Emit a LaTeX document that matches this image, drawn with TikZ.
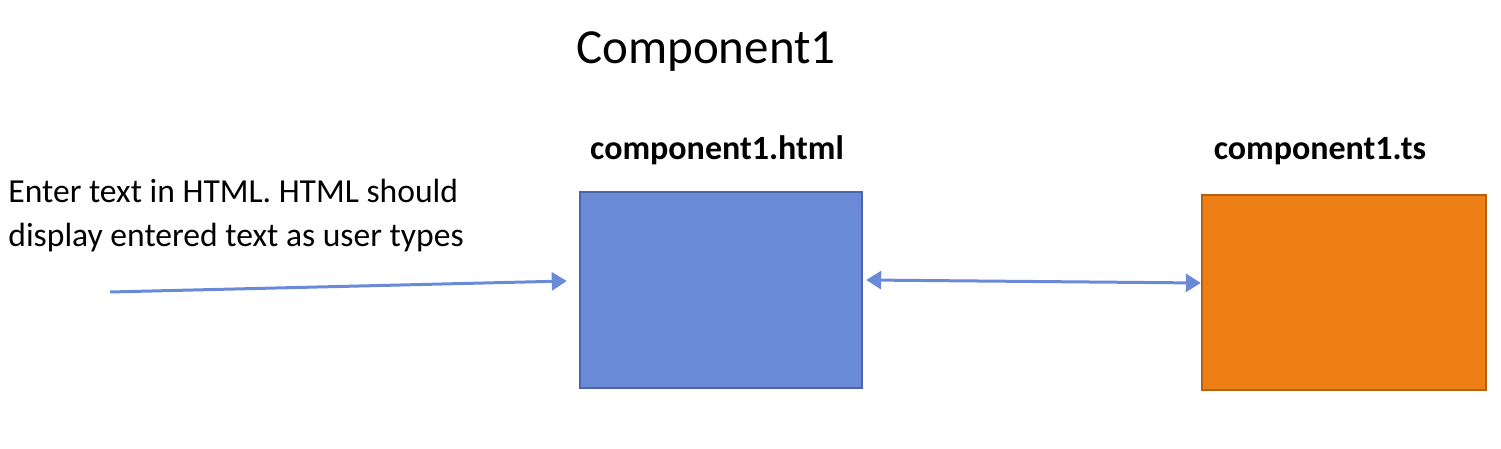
\documentclass[tikz,border=0pt]{standalone}
\usepackage{fontspec}
\setmainfont{Carlito}
\usetikzlibrary{positioning,arrows.meta}
\definecolor{htmlblue}{HTML}{6A8AD8}
\definecolor{htmlborder}{HTML}{4A66A8}
\definecolor{tsorange}{HTML}{EE7F16}
\definecolor{tsborder}{HTML}{B5600F}

\begin{document}
\begin{tikzpicture}[x=0.5pt,y=-0.5pt,>={Triangle[length=7.5pt,width=9pt]}]
  \tikzset{
    filebox/.style={draw,line width=1.2pt,minimum width=141pt,minimum height=98pt,inner sep=0pt},
    filelabel/.style={font=\fontsize{17}{20}\selectfont\bfseries,inner sep=0pt},
    flow/.style={draw=htmlblue,line width=1.5pt}
  }
  \useasboundingbox (0,0) rectangle (1501,449);

  \node[font=\fontsize{24.5}{29}\selectfont,inner sep=0pt,anchor=base] (title) at (706,64) {Component1};

  \node[filebox,fill=htmlblue,draw=htmlborder] (html) at (721,290) {};
  \node[filebox,fill=tsorange,draw=tsborder,minimum width=142pt,minimum height=97.5pt] (ts) at (1344,292.5) {};

  \node[filelabel,above = 13pt of html,xshift=-2pt] (html_label) {component1.html};
  \node[filelabel,above = 14.5pt of ts,xshift=-12pt] (ts_label) {component1.ts};

  \node[anchor=north west,align=left,inner sep=0pt,font=\fontsize{16.8}{22}\selectfont] (input_text) at (8,179) {Enter text in HTML. HTML should\\display entered text as user types};
  \coordinate (input) at (110,292);

  \draw[flow,->] (input) -- ([xshift=-6pt,yshift=4.5pt]html.west);
  \draw[flow,<->] ([xshift=1.5pt,yshift=5pt]html.east) -- ([yshift=4.75pt]ts.west);
\end{tikzpicture}
\end{document}
